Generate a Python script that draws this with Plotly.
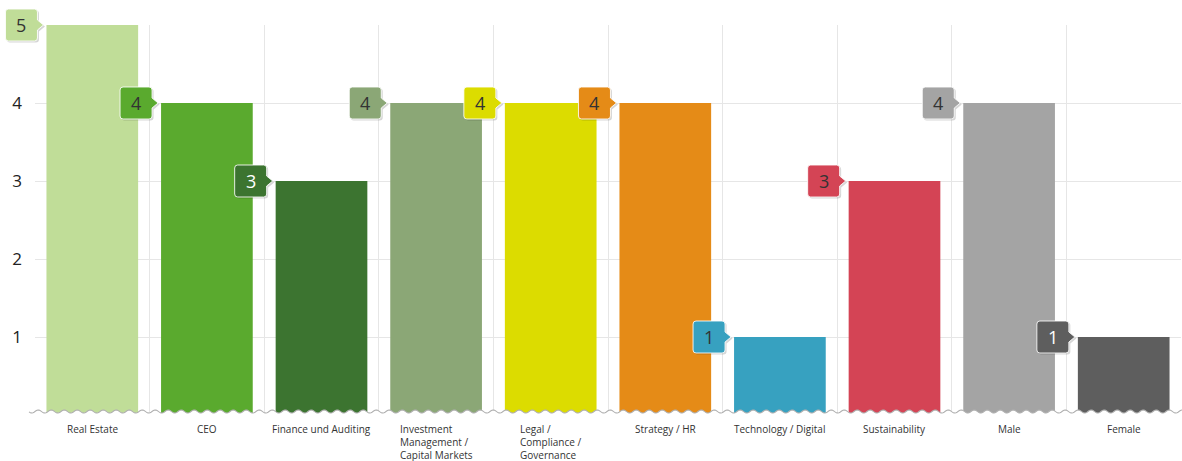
import numpy as np
import plotly.graph_objects as go

# ---- data ----
categories = [
    "Real Estate", "CEO", "Finance und Auditing",
    "Investment Management / Capital Markets",
    "Legal / Compliance / Governance", "Strategy / HR",
    "Technology / Digital", "Sustainability", "Male", "Female",
]
tick_labels = [
    "Real Estate", "CEO", "Finance und Auditing",
    "Investment<br>Management /<br>Capital Markets",
    "Legal /<br>Compliance /<br>Governance", "Strategy / HR",
    "Technology / Digital", "Sustainability", "Male", "Female",
]
values = [5, 4, 3, 4, 4, 4, 1, 3, 4, 1]
colors = [
    "#c0dd98", "#5aaa2e", "#3c7430", "#8ba776", "#dcdc00",
    "#e58b17", "#37a1c0", "#d44455", "#a4a4a4", "#5e5e5e",
]
y_tick_vals = [0, 1, 2, 3, 4, 5]
y_tick_text = ["", "1", "2", "3", "4", ""]

# ---- axes ranges ----
n = len(categories)
x_range = [-0.5, n - 0.5]
y_range = [0, 5]
bar_gap = 0.2
half_bar = (1 - bar_gap) / 2
# vertical grid lines sit on the boundaries between categories
x_grid = [k - 0.5 for k in range(n + 1)]


def x_frac(v):
    return (v - x_range[0]) / (x_range[1] - x_range[0])


def y_frac(v):
    return (v - y_range[0]) / (y_range[1] - y_range[0])


def text_color(hex_color):
    r, g, b = (int(hex_color[i:i + 2], 16) for i in (1, 3, 5))
    lum = 0.299 * r + 0.587 * g + 0.114 * b
    return "#ffffff" if lum < 110 else "#333333"


fig = go.Figure(
    go.Bar(
        x=list(range(n)),
        y=values,
        marker=dict(color=colors, line=dict(width=0)),
        hoverinfo="skip",
    )
)

shapes = []
annotations = []

# wavy baseline: white band hiding the bar feet, then the grey wave line
wx = np.arange(-6, 1160, 1.0)
wy = 3.5 + 1.5 * np.sin(2 * np.pi * wx / 13.0)
wave = " L".join(f"{a:.1f},{b:.2f}" for a, b in zip(wx, wy))
shapes.append(dict(
    type="path", xref="paper", yref="paper",
    xsizemode="pixel", ysizemode="pixel", xanchor=0, yanchor=0,
    path=f"M{wave} L{wx[-1]:.1f},-8 L{wx[0]:.1f},-8 Z",
    fillcolor="white", line=dict(width=0), layer="above",
))
shapes.append(dict(
    type="path", xref="paper", yref="paper",
    xsizemode="pixel", ysizemode="pixel", xanchor=0, yanchor=0,
    path=f"M{wave}",
    fillcolor="rgba(0,0,0,0)", line=dict(color="#b0b0b0", width=1.1),
    layer="above",
))

# value badge: rounded box with a pointer towards the bar's top-left corner
L, R, T, B, rr = -41, -9, 16, -16, 3


def badge_path(dx=0.0, dy=0.0):
    pts = [
        f"M{L + rr + dx},{T + dy}",
        f"L{R - rr + dx},{T + dy}",
        f"Q{R + dx},{T + dy} {R + dx},{T - rr + dy}",
        f"L{R + dx},{5 + dy}",
        f"L{-3 + dx},{0 + dy}",
        f"L{R + dx},{-5 + dy}",
        f"L{R + dx},{B + rr + dy}",
        f"Q{R + dx},{B + dy} {R - rr + dx},{B + dy}",
        f"L{L + rr + dx},{B + dy}",
        f"Q{L + dx},{B + dy} {L + dx},{B + rr + dy}",
        f"L{L + dx},{T - rr + dy}",
        f"Q{L + dx},{T + dy} {L + rr + dx},{T + dy}",
        "Z",
    ]
    return " ".join(pts)


for i, (v, c) in enumerate(zip(values, colors)):
    ax = x_frac(i - half_bar)
    ay = y_frac(v)
    shapes.append(dict(
        type="path", xref="paper", yref="paper",
        xsizemode="pixel", ysizemode="pixel", xanchor=ax, yanchor=ay,
        path=badge_path(1.5, -1.5),
        fillcolor="rgba(0,0,0,0.16)", line=dict(width=0), layer="above",
    ))
    shapes.append(dict(
        type="path", xref="paper", yref="paper",
        xsizemode="pixel", ysizemode="pixel", xanchor=ax, yanchor=ay,
        path=badge_path(),
        fillcolor=c, line=dict(color="rgba(255,255,255,0.85)", width=1),
        layer="above",
    ))
    annotations.append(dict(
        x=i - half_bar, y=v, xref="x", yref="y",
        xshift=-25, showarrow=False, xanchor="center", yanchor="middle",
        text=str(v),
        font=dict(family="Open Sans", size=18, color=text_color(c)),
    ))

# category labels (left-aligned lines, centred under each bar)
for i, lab in enumerate(tick_labels):
    annotations.append(dict(
        x=i, y=0, xref="x", yref="paper",
        yshift=-6, showarrow=False, xanchor="center", yanchor="top",
        align="left", text=lab, borderpad=0,
        font=dict(family="Open Sans", size=10, color="#333333"),
    ))

fig.update_layout(
    width=1182, height=461,
    margin=dict(l=35, r=1, t=25, b=46),
    paper_bgcolor="white", plot_bgcolor="white",
    bargap=bar_gap, showlegend=False,
    shapes=shapes, annotations=annotations,
    xaxis=dict(
        range=x_range, tickvals=x_grid, showticklabels=False,
        showgrid=True, gridcolor="#e6e6e6", gridwidth=1,
        ticks="", zeroline=False, showline=False,
        fixedrange=True,
    ),
    yaxis=dict(
        range=y_range, tickvals=y_tick_vals, ticktext=y_tick_text,
        showgrid=True, gridcolor="#e6e6e6", gridwidth=1,
        zeroline=False, showline=False, ticks="",
        ticklabelstandoff=12,
        tickfont=dict(family="Open Sans", size=17, color="#222222"),
        fixedrange=True,
    ),
)

fig.write_html("out.html")
